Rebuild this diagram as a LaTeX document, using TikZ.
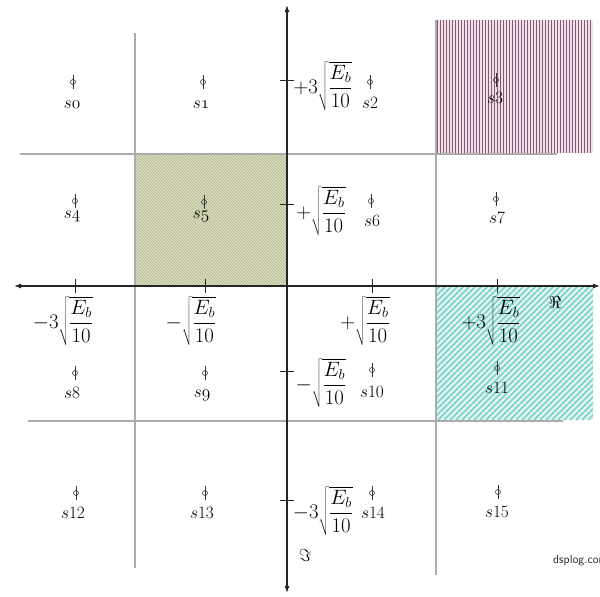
\documentclass[tikz,border=0pt]{standalone}
\usetikzlibrary{arrows.meta}
\definecolor{GridGray}{HTML}{ABABAB}
\definecolor{MauveLine}{HTML}{8A5677}
\definecolor{MauveBack}{HTML}{EFE2E8}
\definecolor{OliveLine}{HTML}{AAAE86}
\definecolor{OliveBack}{HTML}{DCDFC0}
\definecolor{CyanLine}{HTML}{86D6CF}
\definecolor{CyanBack}{HTML}{E6F6F4}

\begin{document}
\begin{tikzpicture}[x=1pt, y=-1pt,
  gridline/.style={draw=GridGray, line width=1.6pt},
  axis/.style={draw=black!85, line width=1.1pt,
    {Latex[length=7pt,width=5pt]}-{Latex[length=7pt,width=5pt]}},
  tickmark/.style={draw=black!85, line width=0.9pt},
  ptmark/.style={circle, draw=black!80, line width=0.6pt, inner sep=0pt,
    minimum size=5pt},
  ptstem/.style={draw=black!80, line width=0.6pt},
  slabel/.style={font=\fontsize{17.28}{21}\selectfont, inner sep=0pt, anchor=base},
  value/.style={font=\fontsize{20.74}{24}\selectfont, inner sep=0pt}
]
\useasboundingbox (0,0) rectangle (600,597);

% Decision regions
\fill[MauveBack] (436,20) rectangle (593,153);
\foreach \x in {437,440,...,592}
  \draw[MauveLine, line width=0.9pt] (\x,20) -- (\x,153);

\begin{scope}
  \clip (135,154) rectangle (287,286);
  \fill[OliveBack] (135,154) rectangle (287,286);
  \foreach \x in {0,3,...,290}
    \draw[OliveLine, line width=0.6pt] (\x,154) -- ++(135,135);
\end{scope}

\begin{scope}
  \clip (436,286) rectangle (593,420);
  \fill[CyanBack] (436,286) rectangle (593,420);
  \foreach \x in {300,306,...,596}
    \draw[CyanLine, line width=1.8pt] (\x,420) -- ++(135,-135);
\end{scope}

% Grid
\draw[gridline] (135,33) -- (135,568);
\draw[gridline] (436,20) -- (436,575);
\draw[gridline] (20,154) -- (557,154);
\draw[gridline] (28,421) -- (563,421);

% Axes
\coordinate (xleft) at (14,286);
\coordinate (xright) at (600,286);
\coordinate (ytop) at (287,5);
\coordinate (ybottom) at (287,593);
\draw[axis] (xleft) -- (xright);
\draw[axis] (ybottom) -- (ytop);
\foreach \x in {75,205,372,497} \draw[tickmark] (\x,279) -- (\x,293);
\foreach \y in {80,204,371,500} \draw[tickmark] (280,\y) -- (294,\y);

% Constellation points
\node[ptmark] (p0)  at (73,82)   {};
\node[ptmark] (p1)  at (203,82)  {};
\node[ptmark] (p2)  at (370,82)  {};
\node[ptmark] (p3)  at (496,80)  {};
\node[ptmark] (p4)  at (75,201)  {};
\node[ptmark] (p5)  at (204,202) {};
\node[ptmark] (p6)  at (371,201) {};
\node[ptmark] (p7)  at (496,199) {};
\node[ptmark] (p8)  at (75,373)  {};
\node[ptmark] (p9)  at (205,373) {};
\node[ptmark] (p10) at (372,370) {};
\node[ptmark] (p11) at (497,368) {};
\node[ptmark] (p12) at (76,493)  {};
\node[ptmark] (p13) at (205,493) {};
\node[ptmark] (p14) at (372,493) {};
\node[ptmark] (p15) at (498,492) {};
\foreach \i in {0,...,15}
  \draw[ptstem] (p\i.center) ++(0,-7) -- ++(0,14);

% Point labels
\node[slabel] (s0)  at (72,108)  {$s\mathnormal{0}$};
\node[slabel] (s1)  at (201,108) {$s\mathnormal{1}$};
\node[slabel] (s2)  at (370,108) {$s$2};
\node[slabel] (s3)  at (495,103) {$s$3};
\node[slabel] (s4)  at (72,218)  {$s\mathnormal{4}$};
\node[slabel] (s5)  at (201,218) {$s\mathnormal{5}$};
\node[slabel] (s6)  at (372,226) {$s$6};
\node[slabel] (s7)  at (497,223) {$s$7};
\node[slabel] (s8)  at (72,398)  {$s$8};
\node[slabel] (s9)  at (202,397) {$s\mathnormal{9}$};
\node[slabel] (s10) at (372,397) {$s$10};
\node[slabel] (s11) at (497,393) {$s$11};
\node[slabel] (s12) at (73,518)  {$s$12};
\node[slabel] (s13) at (202,518) {$s$13};
\node[slabel] (s14) at (373,518) {$s$14};
\node[slabel] (s15) at (497,517) {$s$15};

% Axis values
\node[value] (ip3) at (323,86)  {$+3\sqrt{\displaystyle\frac{E_b}{10}}$};
\node[value] (ip1) at (321,211) {$+\sqrt{\displaystyle\frac{E_b}{10}}$};
\node[value] (rm3) at (63,321)  {$-3\sqrt{\displaystyle\frac{E_b}{10}}$};
\node[value] (rm1) at (191,321) {$-\sqrt{\displaystyle\frac{E_b}{10}}$};
\node[value] (rp1) at (365,321) {$+\sqrt{\displaystyle\frac{E_b}{10}}$};
\node[value] (rp3) at (491,321) {$+3\sqrt{\displaystyle\frac{E_b}{10}}$};
\node[value] (im1) at (321,383) {$-\sqrt{\displaystyle\frac{E_b}{10}}$};
\node[value] (im3) at (323,511) {$-3\sqrt{\displaystyle\frac{E_b}{10}}$};

% Axis names and source
\node[slabel, anchor=center] (re) at (555,302) {$\Re$};
\node[slabel, anchor=center] (im) at (305,555) {$\Im$};
\node[font=\sffamily\fontsize{12}{14}\selectfont, inner sep=0pt,
  anchor=base west, text=black!85] (src) at (553,563) {dsplog.com};

\end{tikzpicture}
\end{document}
